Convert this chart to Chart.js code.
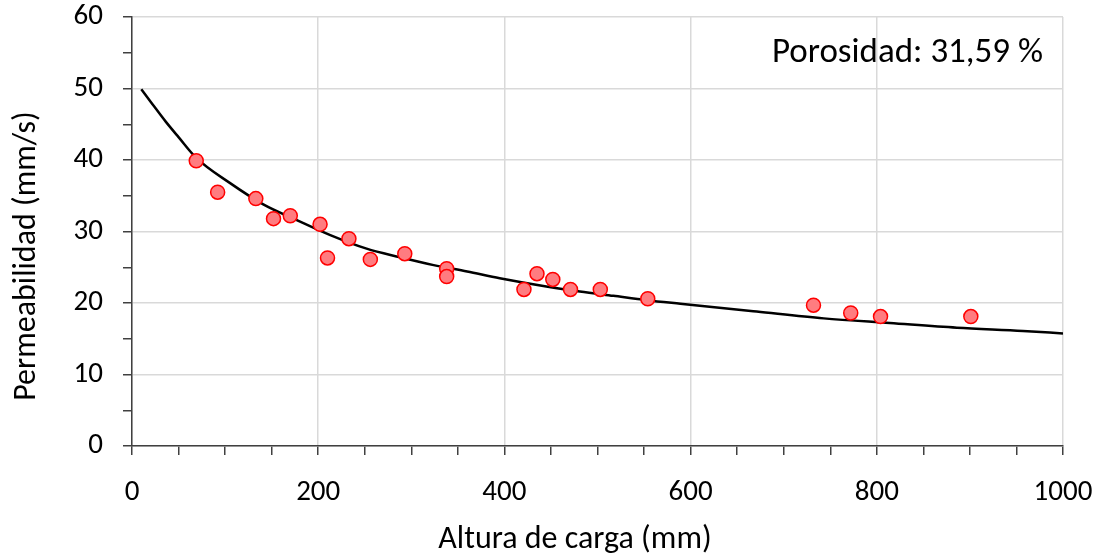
<!DOCTYPE html>
<html>
<head>
<meta charset="utf-8">
<script src="https://cdn.jsdelivr.net/npm/chart.js@4"></script>
<style>
  html, body { margin: 0; padding: 0; background: #fff; }
  #wrap { width: 1101px; height: 556px; }
</style>
</head>
<body>
<div id="wrap"><canvas id="perm-chart"></canvas></div>
<script>
// measured points
var alturaMm = [69, 92, 133, 152, 170, 202, 210, 233, 256, 293, 338, 338, 421, 435, 452, 471, 503, 554, 732, 772, 804, 901];
var permeab = [39.9, 35.5, 34.6, 31.8, 32.2, 31.0, 26.3, 29.0, 26.1, 26.9, 24.8, 23.7, 21.9, 24.1, 23.3, 21.9, 21.9, 20.6, 19.7, 18.6, 18.1, 18.1];

// trend curve
var curvaX = [10, 22, 36, 50, 69, 105, 141, 177, 213, 252, 288, 324, 360, 395, 445, 481, 517, 553, 589, 671, 743, 814, 886, 957, 1000];
var curvaY = [49.9, 47.8, 45.4, 43.2, 40.3, 36.8, 33.8, 31.6, 29.5, 27.6, 26.4, 25.3, 24.4, 23.45, 22.3, 21.6, 21.0, 20.4, 19.9, 18.8, 17.85, 17.2, 16.55, 16.1, 15.75];

var xTicks = [0, 200, 400, 600, 800, 1000];
var yTicks = [0, 10, 20, 30, 40, 50, 60];
var xTitulo = 'Altura de carga (mm)';
var yTitulo = 'Permeabilidad (mm/s)';
var porosidadTxt = 'Porosidad: 31,59 %';

var fontFam = "Carlito, Lato, 'Open Sans', sans-serif";

function toXY(xs, ys) {
    return xs.map(function (x, i) { return { x: x, y: ys[i] }; });
}

// axis titles (Excel puts them a bit off the plot centre) and the text box
var textosPlugin = {
    id: 'textos',
    afterDraw: function (chart) {
        var ctx = chart.ctx;
        var area = chart.chartArea;
        ctx.save();
        ctx.fillStyle = '#000';
        ctx.textAlign = 'center';
        ctx.textBaseline = 'middle';
        ctx.font = '32px ' + fontFam;
        ctx.fillText(xTitulo, 575, 540);

        ctx.save();
        ctx.translate(27, 256);
        ctx.rotate(-Math.PI / 2);
        ctx.fillText(yTitulo, 0, 0);
        ctx.restore();

        ctx.font = '35px ' + fontFam;
        ctx.textAlign = 'right';
        ctx.fillText(porosidadTxt, area.right - 20, area.top + 36);
        ctx.restore();
    }
};

var ctx = document.getElementById('perm-chart').getContext('2d');
var chart = new Chart(ctx, {
    type: 'scatter',
    data: {
        datasets: [{
            label: 'Medidas',
            data: toXY(alturaMm, permeab),
            backgroundColor: '#ff7c80',
            borderColor: '#ff0000',
            borderWidth: 1.5,
            pointRadius: 7,
            pointHoverRadius: 7
        }, {
            label: 'Ajuste',
            data: toXY(curvaX, curvaY),
            showLine: true,
            borderColor: '#000',
            borderWidth: 2.5,
            pointRadius: 0,
            cubicInterpolationMode: 'monotone',
            fill: false
        }]
    },
    options: {
        responsive: true,
        maintainAspectRatio: false,
        animation: false,
        layout: {
            padding: { top: 17, right: 38, left: 0, bottom: 0 }
        },
        plugins: {
            legend: { display: false },
            tooltip: { enabled: false }
        },
        scales: {
            x: {
                type: 'linear',
                min: 0,
                max: 1000,
                afterBuildTicks: function (scale) {
                    var t = [];
                    for (var v = 0; v <= 1000; v += 50) t.push({ value: v });
                    scale.ticks = t;
                },
                afterFit: function (scale) {
                    scale.height = 110;
                    scale.paddingLeft = 0;
                    scale.paddingRight = 0;
                },
                ticks: {
                    autoSkip: false,
                    maxRotation: 0,
                    padding: 20,
                    color: '#000',
                    font: { family: fontFam, size: 29 },
                    callback: function (v) { return xTicks.indexOf(v) >= 0 ? String(v) : ''; }
                },
                grid: {
                    color: function (c) { return c.tick && c.tick.value % 200 === 0 ? '#d9d9d9' : 'rgba(0,0,0,0)'; },
                    tickColor: '#404040',
                    lineWidth: 1.5,
                    tickLength: 9
                },
                border: { color: '#404040', width: 1.5 }
            },
            y: {
                type: 'linear',
                min: 0,
                max: 60,
                afterBuildTicks: function (scale) {
                    var t = [];
                    for (var v = 0; v <= 60; v += 5) t.push({ value: v });
                    scale.ticks = t;
                },
                afterFit: function (scale) {
                    scale.width = 132;
                    scale.paddingTop = 0;
                    scale.paddingBottom = 0;
                },
                ticks: {
                    autoSkip: false,
                    padding: 20,
                    color: '#000',
                    font: { family: fontFam, size: 29 },
                    callback: function (v) { return yTicks.indexOf(v) >= 0 ? String(v) : ''; }
                },
                grid: {
                    color: function (c) { return c.tick && c.tick.value % 10 === 0 ? '#d9d9d9' : 'rgba(0,0,0,0)'; },
                    tickColor: '#404040',
                    lineWidth: 1.5,
                    tickLength: 9
                },
                border: { color: '#404040', width: 1.5 }
            }
        }
    },
    plugins: [textosPlugin]
});
</script>
</body>
</html>
